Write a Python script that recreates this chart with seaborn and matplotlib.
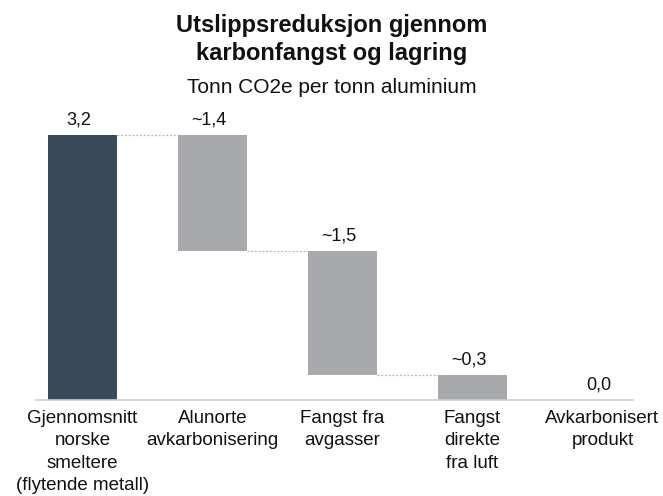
import matplotlib
matplotlib.use("Agg")
import matplotlib.pyplot as plt
import seaborn as sns

# Waterfall steps (tonn CO2e per tonn aluminium)
categories = [
    "Gjennomsnitt\nnorske\nsmeltere\n(flytende metall)",
    "Alunorte\navkarbonisering",
    "Fangst fra\navgasser",
    "Fangst\ndirekte\nfra luft",
    "Avkarbonisert\nprodukt",
]
steps = [3.2, -1.4, -1.5, -0.3, 0.0]
value_labels = ["3,2", "~1,4", "~1,5", "~0,3", "0,0"]
is_total = [True, False, False, False, True]

sns.set_theme(style="white")
plt.rcParams["font.family"] = ["Liberation Sans", "DejaVu Sans"]

DARK = "#394a5a"
GREY = "#a8a9ac"
BAR_W = 0.53

# Floating bar geometry from the running total
heights, bottoms = [], []
level = 0.0
for s, tot in zip(steps, is_total):
    if tot:
        if s != 0:
            level = s
        heights.append(s)
        bottoms.append(0.0)
    else:
        new = level + s
        heights.append(abs(s))
        bottoms.append(min(level, new))
        level = new
tops = [b + h for b, h in zip(bottoms, heights)]

fig = plt.figure(figsize=(6.63, 4.96), dpi=100)
ax = fig.add_axes([36 / 663, 96 / 496, 597 / 663, 290 / 496])

colors = [DARK if t else GREY for t in is_total]
keys = [str(i) for i in range(len(categories))]
sns.barplot(x=keys, y=heights, hue=keys, palette=colors, legend=False,
            width=BAR_W, saturation=1, ax=ax, edgecolor="none")

# Lift the reduction bars so they float at the running total
for patch in ax.patches:
    idx = int(round(patch.get_x() + patch.get_width() / 2))
    patch.set_y(bottoms[idx])

ax.set_xlim(-0.358, 4.235)
ax.set_ylim(0, 3.5)

# Dotted connectors between consecutive bars
half = BAR_W / 2
for i in range(len(steps) - 2):
    y = tops[i] if i == 0 else bottoms[i]
    ax.plot([i + half, i + 1 - half], [y, y], color="#b5b5b5", lw=0.9,
            ls=(0, (1.5, 1.5)), zorder=0)

# Value labels above each bar
for i, lab in enumerate(value_labels):
    ax.text(i - 0.03, tops[i] + 0.08, lab, ha="center", va="bottom",
            fontsize=13, color="#111111")

for s in ["top", "left", "right"]:
    ax.spines[s].set_visible(False)
ax.spines["bottom"].set_color("#cccccc")
ax.spines["bottom"].set_linewidth(1.2)
ax.set_yticks([])
ax.set_xticks(range(len(categories)))
ax.set_xticklabels(categories, fontsize=13.5, color="#111111", linespacing=1.42)
ax.tick_params(axis="x", length=0, pad=7)
ax.set_xlabel("")
ax.set_ylabel("")

fig.text(0.5, 1 - 32 / 496, "Utslippsreduksjon gjennom", ha="center",
         va="baseline", fontsize=17, fontweight="bold", color="#111111")
fig.text(0.5, 1 - 60 / 496, "karbonfangst og lagring", ha="center",
         va="baseline", fontsize=17, fontweight="bold", color="#111111")
fig.text(0.5, 1 - 93 / 496, "Tonn CO2e per tonn aluminium", ha="center",
         va="baseline", fontsize=15, color="#111111")

fig.savefig("out.png", dpi=100, facecolor="white")
